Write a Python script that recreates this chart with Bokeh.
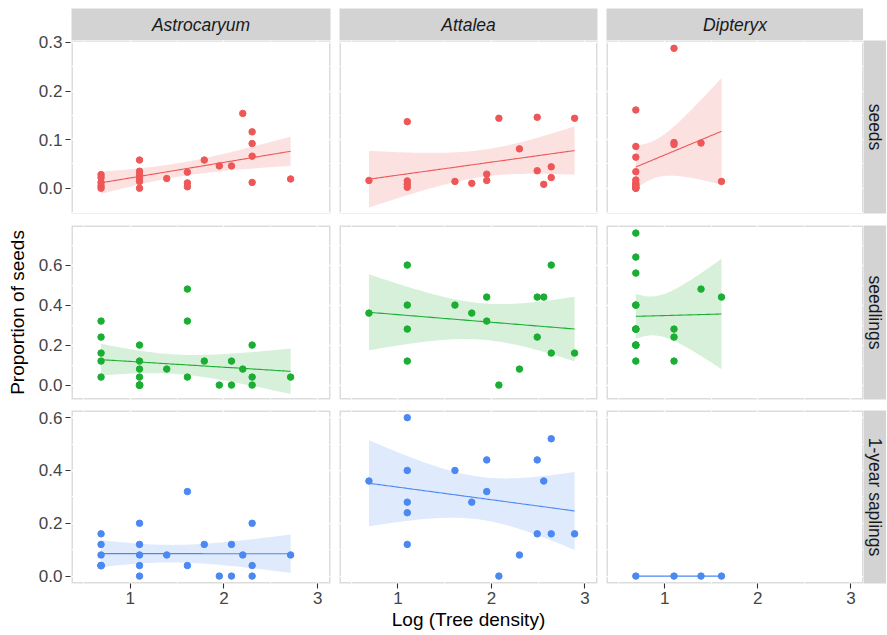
import numpy as np
from bokeh.plotting import figure
from bokeh.models import (GridBox, Row, Column, Range1d, FixedTicker, BoxAnnotation, Label,
                          PrintfTickFormatter)
from bokeh.embed import file_html
from bokeh.resources import INLINE

# ---------------- data ----------------
species = ["Astrocaryum", "Attalea", "Dipteryx"]
stages = ["seeds", "seedlings", "1-year saplings"]
stage_colors = ["#EE5757", "#1AAE33", "#4C88F2"]

x_ticks = [1, 2, 3]
y_ticks = [[0.0, 0.1, 0.2, 0.3], [0.0, 0.2, 0.4, 0.6], [0.0, 0.2, 0.4, 0.6]]

# Astrocaryum
astro_seeds_x = [0.69, 0.69, 0.69, 0.69, 0.69, 1.10, 1.10, 1.10, 1.10, 1.10, 1.10, 1.39,
                 1.61, 1.61, 1.61, 1.79, 1.95, 2.08, 2.20, 2.30, 2.30, 2.30, 2.30, 2.71]
astro_seeds_y = [0.028, 0.022, 0.012, 0.005, 0.000, 0.058, 0.035, 0.028, 0.021, 0.014, 0.000, 0.020,
                 0.033, 0.011, 0.003, 0.058, 0.046, 0.046, 0.154, 0.116, 0.092, 0.066, 0.012, 0.019]

astro_seedl_x = [0.69, 0.69, 0.69, 0.69, 0.69, 1.10, 1.10, 1.10, 1.10, 1.10, 1.10, 1.10, 1.10, 1.10,
                 1.39, 1.61, 1.61, 1.61, 1.79, 1.95, 2.08, 2.08, 2.20, 2.30, 2.30, 2.30, 2.71]
astro_seedl_y = [0.32, 0.24, 0.16, 0.12, 0.04, 0.20, 0.12, 0.08, 0.04, 0.00, 0.00, 0.00, 0.00, 0.00,
                 0.08, 0.48, 0.32, 0.04, 0.12, 0.00, 0.12, 0.00, 0.08, 0.20, 0.04, 0.00, 0.04]

astro_sapl_x = [0.69, 0.69, 0.69, 0.69, 0.69, 0.69, 0.69, 1.10, 1.10, 1.10, 1.10, 1.10,
                1.39, 1.61, 1.61, 1.79, 1.95, 2.08, 2.08, 2.20, 2.30, 2.30, 2.30, 2.71]
astro_sapl_y = [0.16, 0.12, 0.08, 0.04, 0.04, 0.04, 0.04, 0.20, 0.12, 0.08, 0.04, 0.00,
                0.08, 0.32, 0.04, 0.12, 0.00, 0.12, 0.00, 0.08, 0.20, 0.04, 0.00, 0.08]

# Attalea
attalea_x = [0.69, 1.10, 1.10, 1.10, 1.10, 1.61, 1.79, 1.95, 1.95, 2.08, 2.30,
             2.49, 2.49, 2.56, 2.64, 2.64, 2.89]
attalea_seeds_y = [0.016, 0.137, 0.015, 0.008, 0.002, 0.014, 0.010, 0.029, 0.016, 0.144, 0.081,
                   0.146, 0.036, 0.008, 0.044, 0.022, 0.144]
attalea_seedl_y = [0.36, 0.60, 0.40, 0.28, 0.12, 0.40, 0.36, 0.44, 0.32, 0.00, 0.08,
                   0.44, 0.24, 0.44, 0.60, 0.16, 0.16]
attalea_sapl_x = [0.69, 1.10, 1.10, 1.10, 1.10, 1.10, 1.61, 1.79, 1.95, 1.95, 2.08, 2.30,
                  2.49, 2.49, 2.56, 2.64, 2.64, 2.89]
attalea_sapl_y = [0.36, 0.60, 0.40, 0.28, 0.24, 0.12, 0.40, 0.28, 0.44, 0.32, 0.00, 0.08,
                  0.44, 0.16, 0.36, 0.52, 0.16, 0.16]

# Dipteryx
dipteryx_x = [0.69, 0.69, 0.69, 0.69, 0.69, 0.69, 0.69, 0.69, 0.69, 0.69, 0.69, 0.69,
              1.10, 1.10, 1.10, 1.39, 1.61]
dipteryx_seeds_y = [0.161, 0.086, 0.064, 0.034, 0.017, 0.011, 0.008, 0.006, 0.003, 0.001, 0.000, 0.000,
                    0.288, 0.094, 0.090, 0.093, 0.014]
dipteryx_seedl_y = [0.76, 0.64, 0.56, 0.40, 0.40, 0.28, 0.28, 0.28, 0.20, 0.20, 0.20, 0.12,
                    0.28, 0.24, 0.12, 0.48, 0.44]
dipteryx_sapl_x = [0.69, 1.10, 1.39, 1.61]
dipteryx_sapl_y = [0.00, 0.00, 0.00, 0.00]

panel_data = {
    (0, 0): (astro_seeds_x, astro_seeds_y),
    (1, 0): (astro_seedl_x, astro_seedl_y),
    (2, 0): (astro_sapl_x, astro_sapl_y),
    (0, 1): (attalea_x, attalea_seeds_y),
    (1, 1): (attalea_x, attalea_seedl_y),
    (2, 1): (attalea_sapl_x, attalea_sapl_y),
    (0, 2): (dipteryx_x, dipteryx_seeds_y),
    (1, 2): (dipteryx_x, dipteryx_seedl_y),
    (2, 2): (dipteryx_sapl_x, dipteryx_sapl_y),
}

# Student t 0.975 quantiles (for lm 95% confidence band, as geom_smooth)
T975 = {1: 12.706, 2: 4.303, 3: 3.182, 4: 2.776, 5: 2.571, 6: 2.447, 7: 2.365, 8: 2.306,
        9: 2.262, 10: 2.228, 11: 2.201, 12: 2.179, 13: 2.160, 14: 2.145, 15: 2.131, 16: 2.120,
        17: 2.110, 18: 2.101, 19: 2.093, 20: 2.086, 21: 2.080, 22: 2.074, 23: 2.069, 24: 2.064,
        25: 2.060, 26: 2.056, 27: 2.052, 28: 2.048, 29: 2.045, 30: 2.042}

# ---------------- layout / style ----------------
X_RANGE = (0.375, 3.135)
Y_RANGES = [(-0.052, 0.304), (-0.072, 0.798), (-0.028, 0.627)]
AXIS_W = 70           # width of the y-axis column (ticks + labels + title)
FW = [259, 258, 257]
MR = [9, 9, 0]
FH = [173, 174, 173]
MB = [12, 11, 51]
STRIP_TOP = 8
STRIP_H = 32
STRIP_W = 23
FONT = "Liberation Sans"
STRIP_BG = "#D3D3D3"
BORDER = "#8A8A8A"


def minor_of(ticks, lo, hi):
    step = ticks[1] - ticks[0]
    m = np.arange(ticks[0] - step / 2, hi, step)
    return [float(round(v, 6)) for v in m if lo <= v <= hi]


def lm_band(x, y, n_pts=80):
    x = np.asarray(x, float)
    y = np.asarray(y, float)
    n = len(x)
    xm = x.mean()
    sxx = ((x - xm) ** 2).sum()
    b = ((x - xm) * (y - y.mean())).sum() / sxx
    a = y.mean() - b * xm
    res = y - (a + b * x)
    s = np.sqrt((res ** 2).sum() / (n - 2))
    xs = np.linspace(x.min(), x.max(), n_pts)
    fit = a + b * xs
    se = s * np.sqrt(1.0 / n + (xs - xm) ** 2 / sxx)
    t = T975[n - 2]
    return xs, fit, fit - t * se, fit + t * se


def style_axis(ax, tick_out, standoff):
    ax.axis_line_color = None
    ax.major_tick_line_color = "#333333"
    ax.major_tick_line_width = 1.1
    ax.major_tick_in = 0
    ax.major_tick_out = tick_out
    ax.minor_tick_line_color = None
    ax.major_label_text_font = FONT
    ax.major_label_text_font_size = "17px"
    ax.major_label_text_color = "#454545"
    ax.major_label_standoff = standoff
    ax.axis_label_text_font = FONT
    ax.axis_label_text_font_size = "19px"
    ax.axis_label_text_font_style = "normal"
    ax.axis_label_text_color = "#000000"


def base_fig(fw, fh, ml, mr, mt, mb, xr, yr, xloc=None, yloc=None, bg="white"):
    return figure(frame_width=fw, frame_height=fh, x_range=xr, y_range=yr,
                  x_axis_location=xloc, y_axis_location=yloc,
                  toolbar_location=None, output_backend="svg", title=None,
                  min_border_left=ml, min_border_right=mr,
                  min_border_top=mt, min_border_bottom=mb,
                  outline_line_color=None, background_fill_color=bg,
                  border_fill_color="white")


def make_yaxis(r):
    # left y axis of a row, in its own narrow figure; the first one also covers the
    # strip height so that its top tick label is not clipped
    mt = STRIP_TOP + STRIP_H if r == 0 else 0
    f = base_fig(1, FH[r], AXIS_W, 0, mt, MB[r], Range1d(0, 1), Range1d(*Y_RANGES[r]), yloc="left")
    f.grid.visible = False
    ax = f.yaxis[0]
    ax.ticker = FixedTicker(ticks=y_ticks[r])
    ax.formatter = PrintfTickFormatter(format="%.1f")
    style_axis(ax, 5, 3)
    if r == 1:
        ax.axis_label = "Proportion of seeds"
        ax.axis_label_standoff = 8
    return f


def make_panel(r, c):
    p = base_fig(FW[c], FH[r], 0, MR[c], 0, MB[r], Range1d(*X_RANGE), Range1d(*Y_RANGES[r]),
                 xloc="below" if r == 2 else None)
    p.add_layout(BoxAnnotation(level="image", fill_color=None, line_color=BORDER, line_width=3))
    p.xgrid.ticker = FixedTicker(ticks=x_ticks, minor_ticks=minor_of(x_ticks, *X_RANGE))
    p.ygrid.ticker = FixedTicker(ticks=y_ticks[r], minor_ticks=minor_of(y_ticks[r], *Y_RANGES[r]))
    for g in (p.xgrid, p.ygrid):
        g.grid_line_color = "white"
        g.grid_line_width = 1.6
        g.minor_grid_line_color = "white"
        g.minor_grid_line_width = 1.0

    if r == 2:
        ax = p.xaxis[0]
        ax.ticker = FixedTicker(ticks=x_ticks)
        ax.formatter = PrintfTickFormatter(format="%d")
        style_axis(ax, 5, 3)
        if c == 1:
            ax.axis_label = "Log (Tree density)"
            ax.axis_label_standoff = 2

    col = stage_colors[r]
    x, y = panel_data[(r, c)]
    xs, fit, lo_b, hi_b = lm_band(x, y)
    p.varea(x=xs, y1=lo_b, y2=hi_b, fill_color=col, fill_alpha=0.18)
    p.line(xs, fit, line_color=col, line_width=1.1)
    p.scatter(x, y, size=6.5, fill_color=col, line_color=col)
    return p


def make_top_strip(c):
    s = base_fig(FW[c], STRIP_H, 0, MR[c], STRIP_TOP, 0, Range1d(0, 1), Range1d(0, 1), bg=STRIP_BG)
    s.grid.visible = False
    s.add_layout(Label(x=0.5, y=0.5, text=species[c], text_align="center",
                       text_baseline="middle", text_font=FONT, text_font_size="17.5px",
                       text_font_style="italic", text_color="#1A1A1A"))
    return s


def make_side_strip(r):
    s = base_fig(STRIP_W, FH[r], 0, 0, 0, MB[r], Range1d(0, 1), Range1d(0, 1), bg=STRIP_BG)
    s.grid.visible = False
    s.add_layout(Label(x=0.5, y=0.5, text=stages[r], text_align="center",
                       text_baseline="middle", angle=-np.pi / 2, text_font=FONT,
                       text_font_size="17.5px", text_color="#1A1A1A"))
    return s


axis_col = Column(children=[make_yaxis(r) for r in range(3)], spacing=0)

children = []
for c in range(3):
    children.append((make_top_strip(c), 0, c))
for r in range(3):
    for c in range(3):
        children.append((make_panel(r, c), r + 1, c))
    children.append((make_side_strip(r), r + 1, 3))
panels = GridBox(children=children, spacing=0)

layout = Row(children=[axis_col, panels], spacing=0)

open("out.html", "w").write(file_html(layout, INLINE))
